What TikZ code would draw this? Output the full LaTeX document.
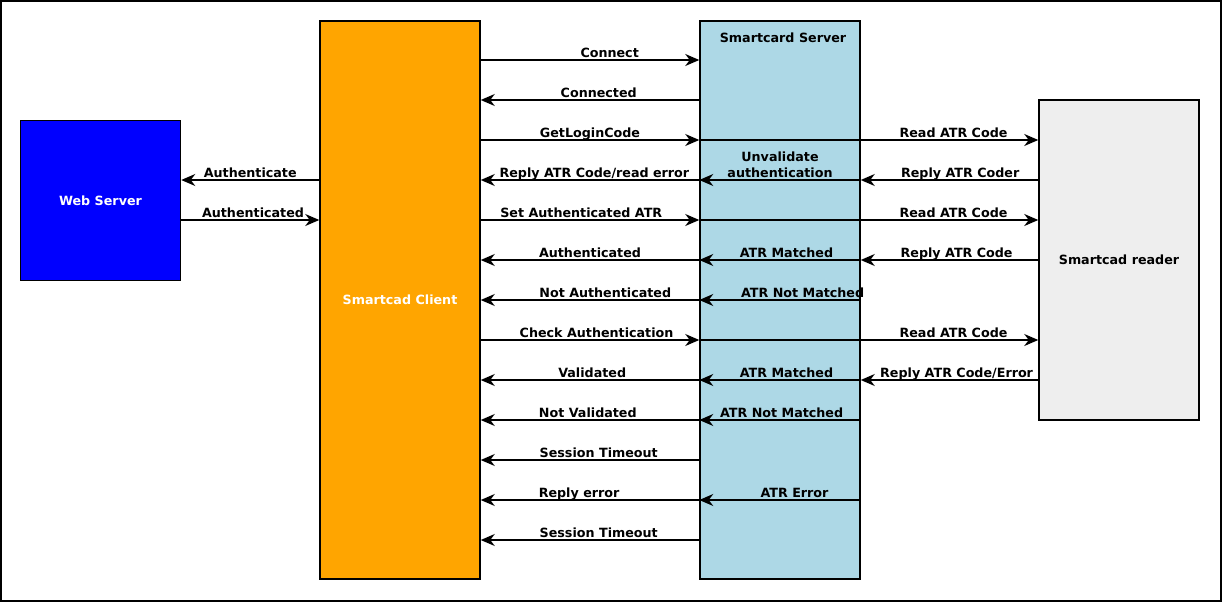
\documentclass[tikz,border=0pt]{standalone}
\usepackage{fontspec}
\setmainfont{DejaVu Sans}
\usetikzlibrary{arrows.meta}
\definecolor{webblue}{RGB}{0,0,255}
\definecolor{clientorange}{RGB}{255,165,0}
\definecolor{serverblue}{RGB}{173,216,230}
\definecolor{readergray}{RGB}{238,238,238}

\begin{document}
\begin{tikzpicture}[x=1pt,y=-1pt,line width=1.5pt,
            font=\bfseries\fontsize{12.7}{16}\selectfont,
            box/.style={rectangle,draw,minimum width=160pt,inner sep=0pt},
            msg/.style={-{Stealth[length=14pt,width=12pt,inset=4.5pt]}},
            lbl/.style={anchor=base,yshift=3pt,inner sep=0pt}]

        \useasboundingbox (0,0) rectangle (1222,602);
        \draw (1,1) rectangle (1221,601);

        % Define vertices
        \node[box,fill=webblue,text=white,minimum height=160pt] (web) at (100.5,200.5) {Web Server};
        \node[box,fill=clientorange,text=white,minimum height=558pt] (client) at (400,300) {Smartcad Client};
        \node[box,fill=serverblue,minimum height=558pt,
              label={[anchor=north,yshift=-9pt,xshift=3pt]north:Smartcard Server}] (server) at (780,300) {};
        \node[box,fill=readergray,minimum height=320pt] (reader) at (1119,260) {Smartcad reader};

        % Draw messages
        \draw[msg] (client.east |- 0,60) -- node[lbl,pos=.59] {Connect} (server.west |- 0,60);
        \draw[msg] (server.west |- 0,100) -- node[lbl,pos=.46] {Connected} (client.east |- 0,100);
        \draw[msg] (client.east |- 0,140) -- node[lbl,pos=.5] {GetLoginCode} (server.west |- 0,140);
        \draw[msg] (server.west |- 0,140) -- node[lbl,pos=.75] {Read ATR Code} (reader.west |- 0,140);
        \draw[msg] (reader.west |- 0,180) -- node[lbl,pos=.44] {Reply ATR Coder} (server.east |- 0,180);
        \draw[msg] (server.east |- 0,180) -- node[anchor=south,yshift=2pt,inner sep=0pt,align=center] {Unvalidate\\authentication} (server.west |- 0,180);
        \draw[msg] (server.west |- 0,180) -- node[lbl,pos=.48] {Reply ATR Code/read error} (client.east |- 0,180);
        \draw[msg] (client.west |- 0,180) -- node[lbl,pos=.5] {Authenticate} (web.east |- 0,180);
        \draw[msg] (web.east |- 0,220) -- node[lbl,pos=.52] {Authenticated} (client.west |- 0,220);
        \draw[msg] (client.east |- 0,220) -- node[lbl,pos=.46] {Set Authenticated ATR} (server.west |- 0,220);
        \draw[msg] (server.west |- 0,220) -- node[lbl,pos=.75] {Read ATR Code} (reader.west |- 0,220);
        \draw[msg] (reader.west |- 0,260) -- node[lbl,pos=.46] {Reply ATR Code} (server.east |- 0,260);
        \draw[msg] (server.east |- 0,260) -- node[lbl,pos=.46] {ATR Matched} (server.west |- 0,260);
        \draw[msg] (server.west |- 0,260) -- node[lbl,pos=.5] {Authenticated} (client.east |- 0,260);
        \draw[msg] (server.east |- 0,300) -- node[lbl,pos=.36] {ATR Not Matched} (server.west |- 0,300);
        \draw[msg] (server.west |- 0,300) -- node[lbl,pos=.43] {Not Authenticated} (client.east |- 0,300);
        \draw[msg] (client.east |- 0,340) -- node[lbl,pos=.53] {Check Authentication} (server.west |- 0,340);
        \draw[msg] (server.west |- 0,340) -- node[lbl,pos=.75] {Read ATR Code} (reader.west |- 0,340);
        \draw[msg] (reader.west |- 0,380) -- node[lbl,pos=.46] {Reply ATR Code/Error} (server.east |- 0,380);
        \draw[msg] (server.east |- 0,380) -- node[lbl,pos=.46] {ATR Matched} (server.west |- 0,380);
        \draw[msg] (server.west |- 0,380) -- node[lbl,pos=.49] {Validated} (client.east |- 0,380);
        \draw[msg] (server.east |- 0,420) -- node[lbl,pos=.49] {ATR Not Matched} (server.west |- 0,420);
        \draw[msg] (server.west |- 0,420) -- node[lbl,pos=.51] {Not Validated} (client.east |- 0,420);
        \draw[msg] (server.west |- 0,460) -- node[lbl,pos=.46] {Session Timeout} (client.east |- 0,460);
        \draw[msg] (server.east |- 0,500) -- node[lbl,pos=.41] {ATR Error} (server.west |- 0,500);
        \draw[msg] (server.west |- 0,500) -- node[lbl,pos=.55] {Reply error} (client.east |- 0,500);
        \draw[msg] (server.west |- 0,540) -- node[lbl,pos=.46] {Session Timeout} (client.east |- 0,540);

\end{tikzpicture}
\end{document}
